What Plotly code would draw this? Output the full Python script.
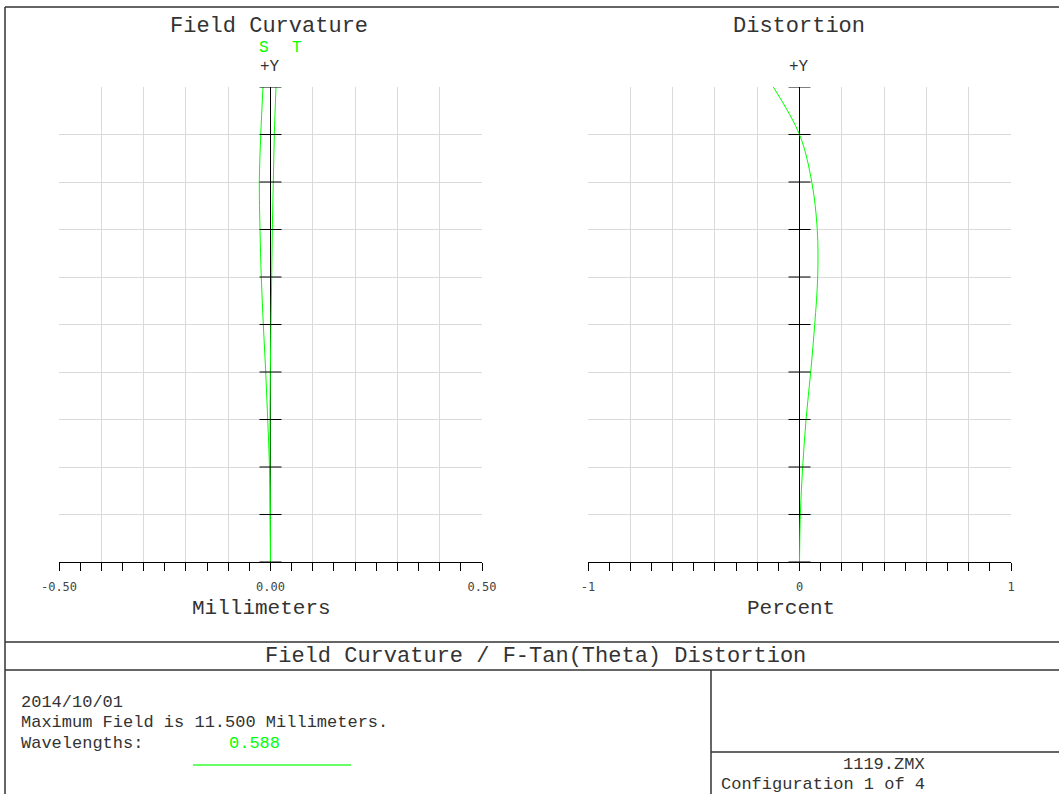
import numpy as np
import plotly.graph_objects as go

# ---- data ----
field = [0.0, 0.1, 0.2, 0.3, 0.4, 0.5, 0.6, 0.7, 0.8, 0.9, 1.0]           # relative field (+Y)
sagittal = [0.0, -0.0010, -0.0024, -0.0066, -0.0113, -0.0170, -0.0218, -0.0248, -0.0265, -0.0230, -0.0177]   # mm
tangential = [0.0, -0.0005, -0.0012, -0.0012, -0.0005, 0.0012, 0.0028, 0.0043, 0.0066, 0.0090, 0.0130]      # mm
distortion = [0.0, 0.004, 0.015, 0.031, 0.053, 0.072, 0.086, 0.084, 0.058, 0.0, -0.124]                     # percent

fc_ticks = [-0.5, -0.4, -0.3, -0.2, -0.1, 0.0, 0.1, 0.2, 0.3, 0.4, 0.5]
fc_ticktext = ["-0.50", "", "", "", "", "0.00", "", "", "", "", "0.50"]
dist_ticks = [-1.0, -0.8, -0.6, -0.4, -0.2, 0.0, 0.2, 0.4, 0.6, 0.8, 1.0]
dist_ticktext = ["-1", "", "", "", "", "0", "", "", "", "", "1"]

W, H = 1059, 794
GREEN = "#00ff00"
FONT = "Liberation Mono"
TXT = "#333333"


def px(x):
    return x / W


def py(y):
    return 1 - y / H


fig = go.Figure()
fig.add_trace(go.Scatter(x=sagittal, y=field, mode="lines", line=dict(color=GREEN, width=1, shape="spline"),
                         name="S", xaxis="x", yaxis="y", showlegend=False))
fig.add_trace(go.Scatter(x=tangential, y=field, mode="lines", line=dict(color=GREEN, width=1, shape="spline"),
                         name="T", xaxis="x", yaxis="y", showlegend=False))
fig.add_trace(go.Scatter(x=distortion, y=field, mode="lines", line=dict(color=GREEN, width=1, shape="spline"),
                         name="Distortion", xaxis="x2", yaxis="y2", showlegend=False))

ydom = [py(562), py(87)]
common_x = dict(showline=True, linecolor="black", linewidth=1, ticks="outside", ticklen=8, tickcolor="black",
                showgrid=True, gridcolor="#dadada", gridwidth=1, zeroline=True, zerolinecolor="black",
                zerolinewidth=1, tickmode="array", fixedrange=True, automargin=False, ticklabelstandoff=6,
                tickfont=dict(family="DejaVu Sans Mono", size=12, color="#444444"))
common_y = dict(showline=False, ticks="", showticklabels=False, showgrid=True, gridcolor="#dadada",
                gridwidth=1, zeroline=False, range=[0, 1], dtick=0.1, tick0=0, domain=ydom, fixedrange=True,
                automargin=False)

fig.update_layout(
    width=W, height=H, autosize=False, margin=dict(l=0, r=0, t=0, b=0, pad=0),
    paper_bgcolor="white", plot_bgcolor="white",
    xaxis=dict(common_x, domain=[px(59), px(482)], range=[-0.5, 0.5], tickvals=fc_ticks, ticktext=fc_ticktext,
               anchor="y",
               minor=dict(tickmode="linear", tick0=0, dtick=0.05, ticks="outside", ticklen=8,
                          tickcolor="black", showgrid=False)),
    yaxis=dict(common_y, anchor="x"),
    xaxis2=dict(common_x, domain=[px(588), px(1011)], range=[-1, 1], tickvals=dist_ticks,
                ticktext=dist_ticktext, anchor="y2",
                minor=dict(tickmode="linear", tick0=0, dtick=0.1, ticks="outside", ticklen=8,
                           tickcolor="black", showgrid=False)),
    yaxis2=dict(common_y, anchor="x2"),
)

shapes = []
# horizontal tick marks across the central (zero) axis at every grid level
for xr, yr in (("x", "y"), ("x2", "y2")):
    for v in np.arange(0, 1.0001, 0.1):
        shapes.append(dict(type="line", xref=xr, yref=yr, xsizemode="pixel", xanchor=0,
                           x0=-11, x1=11, y0=float(v), y1=float(v), line=dict(color="black", width=1)))

# page frame and info boxes
frame = dict(color="#333333", width=1.5)
shapes += [
    dict(type="line", xref="paper", yref="paper", x0=px(5), x1=1, y0=py(7), y1=py(7), line=frame),
    dict(type="line", xref="paper", yref="paper", x0=px(5), x1=px(5), y0=py(7), y1=0, line=frame),
    dict(type="line", xref="paper", yref="paper", x0=px(5), x1=1, y0=py(642), y1=py(642), line=frame),
    dict(type="line", xref="paper", yref="paper", x0=px(5), x1=1, y0=py(670), y1=py(670), line=frame),
    dict(type="line", xref="paper", yref="paper", x0=px(711), x1=px(711), y0=py(670), y1=0, line=frame),
    dict(type="line", xref="paper", yref="paper", x0=px(711), x1=1, y0=py(752), y1=py(752), line=frame),
    dict(type="line", xref="paper", yref="paper", x0=px(193), x1=px(351), y0=py(765), y1=py(765),
         line=dict(color="#66ff66", width=2)),
]
fig.update_layout(shapes=shapes)


def ann(text, x, y, xanchor="center", color=TXT, size=21):
    return dict(text=text, x=px(x), y=py(y), xref="paper", yref="paper", xanchor=xanchor, yanchor="middle",
                showarrow=False, borderpad=0, font=dict(family=FONT, size=size, color=color))


annotations = [
    ann("Field Curvature", 269, 26, size=22),
    ann("Distortion", 799, 26, size=22),
    ann("+Y", 270, 67, size=16),
    ann("+Y", 799, 67, size=16),
    ann("S", 264, 48, color=GREEN, size=16),
    ann("T", 297, 48, color=GREEN, size=16),
    ann("Millimeters", 261, 608),
    ann("Percent", 791, 608),
    ann("Field Curvature / F-Tan(Theta) Distortion", 535, 656, size=22),
    ann("2014/10/01", 20, 702, xanchor="left", size=17),
    ann("Maximum Field is 11.500 Millimeters.", 20, 722, xanchor="left", size=17),
    ann("Wavelengths:", 20, 743, xanchor="left", size=17),
    ann("0.588", 254, 743, color=GREEN, size=17),
    ann("1119.ZMX", 884, 764.5, size=17),
    ann("Configuration 1 of 4", 720, 784.5, xanchor="left", size=17),
]
fig.update_layout(annotations=annotations)

fig.write_html("out.html", config={"responsive": False, "displayModeBar": False},
               post_script="document.body.style.margin='0px';document.body.style.overflow='hidden';")
